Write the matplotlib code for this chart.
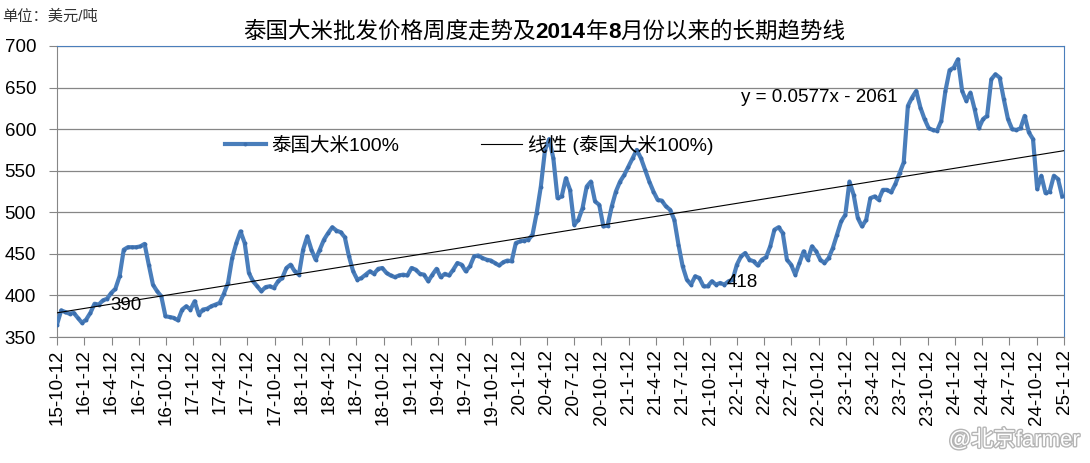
import pandas as pd
import numpy as np
import matplotlib
matplotlib.use('Agg')
import matplotlib.pyplot as plt
import matplotlib.patheffects as pe

plt.rcParams['font.family'] = ['Liberation Sans', 'Noto Sans CJK SC']

# 泰国大米100% 批发价（美元/吨），双周取值，起始 2015-10-12
start_date = '2015-10-12'
end_date = '2025-01-12'
price = [
    365, 382, 380, 378, 379, 373, 367, 371, 379, 390,
    389, 394, 396, 403, 408, 423, 455, 458, 458, 458,
    459, 462, 437, 413, 405, 399, 375, 374, 373, 370,
    383, 387, 383, 393, 377, 383, 384, 387, 389, 391,
    402, 415, 445, 463, 477, 463, 427, 417, 411, 405,
    410, 411, 409, 417, 421, 433, 437, 429, 425, 455,
    471, 455, 443, 455, 467, 475, 482, 478, 476, 470,
    447, 429, 419, 421, 425, 429, 426, 432, 433, 427,
    424, 422, 424, 425, 424, 433, 431, 426, 425, 417,
    425, 432, 422, 426, 424, 431, 439, 437, 429, 435,
    447, 448, 445, 443, 442, 439, 436, 440, 442, 441,
    463, 465, 466, 467, 473, 499, 531, 575, 588, 565,
    517, 519, 541, 527, 485, 491, 505, 531, 537, 513,
    509, 483, 484, 507, 525, 537, 545, 555, 565, 575,
    565, 551, 537, 525, 515, 514, 507, 503, 491, 461,
    435, 419, 413, 423, 421, 411, 411, 417, 413, 415,
    413, 417, 419, 437, 447, 451, 443, 441, 436, 443,
    446, 459, 479, 482, 475, 443, 437, 425, 439, 453,
    443, 459, 453, 443, 439, 445, 457, 473, 489, 497,
    537, 521, 493, 483, 491, 517, 519, 515, 527, 527,
    524, 534, 547, 560, 628, 638, 646, 626, 612, 601,
    599, 598, 610, 646, 671, 674, 684, 646, 634, 644,
    624, 601, 612, 616, 660, 666, 662, 636, 612, 600,
    599, 601, 616, 596, 588, 528, 544, 523, 525, 544,
    540, 519,
]
dates = pd.date_range(start_date, periods=len(price), freq='14D')

# 趋势线 y = 0.0577x - 2061（x 为 Excel 日期序号）
slope, intercept = 0.0577, -2061

title_parts = [('泰国大米批发价格周度走势及', 'normal'), ('2014', 'bold'), ('年', 'normal'),
               ('8', 'bold'), ('月份以来的长期趋势线', 'normal')]

fig = plt.figure(figsize=(10.9, 4.63), dpi=100)
ax = fig.add_axes([57 / 1090, 1 - 337 / 463, (1064 - 57) / 1090, (337 - 46) / 463])

blue = '#4a7ebb'
gray = '#868686'

line, = ax.plot(dates, price, color=blue, lw=3.0, marker='o', ms=1.8,
                mfc='#3c6fae', mec='#3c6fae', label='泰国大米100%', zorder=3)

x0, x1 = pd.Timestamp(start_date), pd.Timestamp(end_date)
excel0 = pd.Timestamp('1899-12-30')
tx = [x0, x1]
ty = [slope * (d - excel0).days + intercept for d in tx]
trend, = ax.plot(tx, ty, color='black', lw=0.8, label='线性 (泰国大米100%)', zorder=4)

ax.set_xlim(x0, x1)
ax.set_ylim(350, 700)
ax.set_yticks(np.arange(350, 701, 50))
ax.yaxis.grid(True, color=gray, lw=0.9)
ax.set_axisbelow(True)

ticks = pd.date_range(start_date, end_date, freq=pd.DateOffset(months=3))
ax.set_xticks(ticks)
ax.set_xticklabels([f'{d.year % 100}-{d.month}-{d.day}' for d in ticks], rotation=90,
                   fontsize=13.5, va='top', ha='center')
ax.tick_params(axis='x', direction='out', length=6, color=gray, pad=3)
ax.tick_params(axis='y', direction='out', length=6, color=gray, pad=9, labelsize=13.5)

for s in ['left', 'bottom']:
    ax.spines[s].set_color(gray)
for s in ['top', 'right']:
    ax.spines[s].set_color(blue)

# 数据标签和公式
ax.text(pd.Timestamp('2016-04-07'), 388, '390', fontsize=13.5, ha='left', va='center', zorder=5)
ax.text(pd.Timestamp('2021-12-08'), 416, '418', fontsize=13.5, ha='left', va='center', zorder=5)
ax.text(pd.Timestamp('2022-01-24'), 638, 'y = 0.0577x - 2061', fontsize=13.5,
        ha='left', va='center', zorder=5)

ax.legend(handles=[line, trend], ncol=2, frameon=False, fontsize=14,
          loc='center left', bbox_to_anchor=(225 / 1090, 1 - 145 / 463),
          bbox_transform=fig.transFigure, borderpad=0, borderaxespad=0,
          handlelength=2.1, handletextpad=0.3, columnspacing=4.2)

# 标题（数字加粗）
prev = fig.text(243 / 1090, 1 - 32 / 463, title_parts[0][0], fontsize=16.2,
                fontweight=title_parts[0][1], ha='left', va='center')
for txt, w in title_parts[1:]:
    prev = ax.annotate(txt, xy=(1, 0.5), xycoords=prev, fontsize=16.2, fontweight=w,
                       ha='left', va='center', annotation_clip=False)

fig.text(2 / 1090, 1 - 17 / 463, '单位：美元/吨', fontsize=11, color='#333333',
         ha='left', va='center')

fig.text(1080 / 1090, 1 - 440 / 463, '@北京farmer', fontsize=16, color='white',
         ha='right', va='center',
         path_effects=[pe.withStroke(linewidth=2, foreground='#b5b5b5')])

fig.savefig('out.png', dpi=100)
